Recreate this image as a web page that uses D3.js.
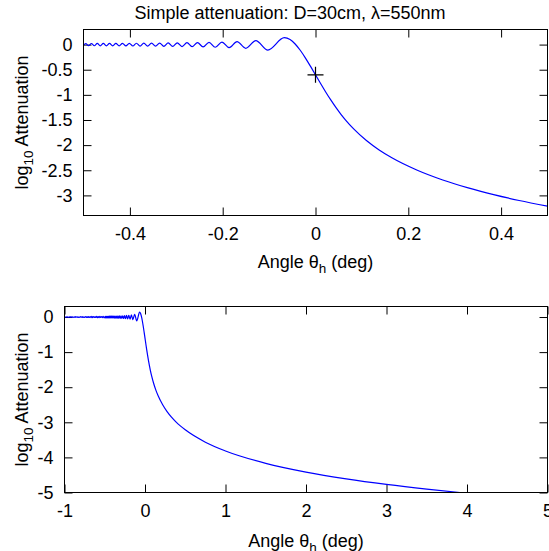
<!DOCTYPE html>
<html>
<head>
<meta charset="utf-8">
<script src="https://cdn.jsdelivr.net/npm/d3@7/dist/d3.min.js"></script>
<style>
body { margin: 0; background: #fff; }
svg { display: block; font-family: 'Liberation Sans', Arial, sans-serif; }
</style>
</head>
<body>
<svg id="chart" width="549" height="551"></svg>
<script>
// knife edge curve (angle in deg, log10 attenuation)
let topAngle = [
	-0.5, -0.49522, -0.48911, -0.48292, -0.47665, -0.47029, -0.46385, -0.45732,
	-0.45069, -0.44396, -0.43713, -0.43019, -0.42314, -0.41597, -0.40866, -0.40124,
	-0.39367, -0.38595, -0.37807, -0.37002, -0.36180, -0.35338, -0.34476, -0.33592,
	-0.32684, -0.31750, -0.30788, -0.29795, -0.28767, -0.27701, -0.26593, -0.25436,
	-0.24224, -0.22948, -0.21597, -0.20155, -0.18603, -0.16908, -0.15023, -0.12865,
	-0.10263, -0.06718,
	-0.05486, -0.04388, -0.03291, -0.02194, -0.01097, 0,
	0.01097, 0.02194, 0.03291, 0.04388, 0.05486, 0.06583, 0.08228, 0.10971,
	0.13714, 0.16457, 0.21942, 0.27428, 0.32914, 0.38399, 0.43885, 0.5
]
let topLog = [
	-0.018, 0.0211, -0.0225, 0.0217, -0.0231, 0.0222, -0.0238, 0.0229,
	-0.0245, 0.0235, -0.0252, 0.0242, -0.0260, 0.0250, -0.0270, 0.0259,
	-0.0281, 0.0269, -0.0293, 0.0281, -0.0307, 0.0293, -0.0323, 0.0308,
	-0.0341, 0.0325, -0.0363, 0.0346, -0.0390, 0.0371, -0.0423, 0.0402,
	-0.0467, 0.0444, -0.0527, 0.0502, -0.0610, 0.0600, -0.0740, 0.0789,
	-0.1090, 0.1369,
	0.1001, 0.0121, -0.1131, -0.2636, -0.4294, -0.6021,
	-0.7749, -0.9426, -1.1015, -1.2499, -1.3864, -1.5113, -1.6778, -1.909,
	-2.0964, -2.2515, -2.4994, -2.6932, -2.8516, -2.9855, -3.1015, -3.2148
]

// lower panel: far left ripple and far tail
let leftAngle = [
	-1.00, -0.99, -0.98, -0.97, -0.96, -0.95, -0.94, -0.93, -0.92, -0.91,
	-0.90, -0.89, -0.88, -0.87, -0.86, -0.85, -0.84, -0.83, -0.82, -0.81,
	-0.80, -0.79, -0.78, -0.77, -0.76, -0.75, -0.74, -0.73, -0.72, -0.71,
	-0.70, -0.69, -0.68, -0.67, -0.66, -0.65, -0.64, -0.63, -0.62, -0.61,
	-0.60, -0.59, -0.58, -0.57, -0.56, -0.55, -0.54, -0.53, -0.52, -0.51
]
let leftLog = [
	0.004, -0.006, 0.008, -0.004, 0.006, -0.009, 0.005, -0.007, 0.009, -0.005,
	0.007, -0.010, 0.006, -0.008, 0.010, -0.006, 0.008, -0.011, 0.007, -0.009,
	0.011, -0.007, 0.009, -0.012, 0.008, -0.010, 0.012, -0.008, 0.010, -0.013,
	0.009, -0.011, 0.014, -0.016, 0.018, -0.017, 0.015, -0.012, 0.010, -0.014,
	0.016, -0.018, 0.012, -0.015, 0.017, -0.013, 0.015, -0.019, 0.018, -0.016
]
let tailAngle = [0.75, 1, 1.5, 2, 2.5, 3, 3.5, 4, 4.5, 5]
let tailLog = [-3.5669, -3.8167, -4.1691, -4.4189, -4.6127, -4.7711, -4.9049, -5.0209, -5.1233, -5.2147]

let crossAngle = [0]
let crossLog = [-0.6021]

let topXTicks = [-0.4, -0.2, 0, 0.2, 0.4]
let topYTicks = [0, -0.5, -1, -1.5, -2, -2.5, -3]
let botXTicks = [-1, 0, 1, 2, 3, 4, 5]
let botYTicks = [0, -1, -2, -3, -4, -5]

let svg = d3.select('#chart')
let fs = 18
let tickLen = 8

function panel(id, box, xDom, yDom, xTicks, yTicks, pts) {
	let x = d3.scaleLinear().domain(xDom).range([box.left, box.right])
	let y = d3.scaleLinear().domain(yDom).range([box.top, box.bottom])
	let g = svg.append('g')

	// clip so the tail stops at the frame
	g.append('clipPath').attr('id', 'clip-' + id)
		.append('rect')
		.attr('x', box.left).attr('y', box.top)
		.attr('width', box.right - box.left).attr('height', box.bottom - box.top)

	let ax = a => {
		a.select('.domain').remove()
		a.selectAll('.tick line').attr('stroke', '#000').attr('stroke-width', 1)
		a.selectAll('text').style('font-size', fs + 'px').attr('fill', '#000')
	}

	g.append('g')
		.attr('transform', `translate(0,${box.bottom})`)
		.call(d3.axisBottom(x).tickValues(xTicks).tickSize(-tickLen).tickPadding(12).tickFormat(d => String(d)))
		.call(ax)
	g.append('g')
		.attr('transform', `translate(0,${box.top})`)
		.call(d3.axisTop(x).tickValues(xTicks).tickSize(-tickLen).tickFormat(''))
		.call(ax)
	g.append('g')
		.attr('transform', `translate(${box.left},0)`)
		.call(d3.axisLeft(y).tickValues(yTicks).tickSize(-tickLen).tickPadding(11).tickFormat(d => String(d)))
		.call(ax)
	g.append('g')
		.attr('transform', `translate(${box.right},0)`)
		.call(d3.axisRight(y).tickValues(yTicks).tickSize(-tickLen).tickFormat(''))
		.call(ax)

	g.append('path')
		.datum(pts)
		.attr('clip-path', `url(#clip-${id})`)
		.attr('fill', 'none')
		.attr('stroke', '#0000ff')
		.attr('stroke-width', 1.2)
		.attr('d', d3.line().x(d => x(d[0])).y(d => y(d[1])).curve(d3.curveMonotoneX))

	g.append('rect')
		.attr('x', box.left).attr('y', box.top)
		.attr('width', box.right - box.left).attr('height', box.bottom - box.top)
		.attr('fill', 'none').attr('stroke', '#000').attr('stroke-width', 1)

	// axis titles
	let xl = g.append('text')
		.attr('x', (box.left + box.right) / 2).attr('y', box.xlab)
		.attr('text-anchor', 'middle').style('font-size', fs + 'px')
	xl.append('tspan').text('Angle θ')
	xl.append('tspan').text('h').attr('dy', 5).style('font-size', (fs * 0.75) + 'px')
	xl.append('tspan').text(' (deg)').attr('dy', -5)

	let yl = g.append('text')
		.attr('transform', `translate(28,${(box.top + box.bottom) / 2}) rotate(-90)`)
		.attr('text-anchor', 'middle').style('font-size', fs + 'px')
	yl.append('tspan').text('log')
	yl.append('tspan').text('10').attr('dy', 5).style('font-size', (fs * 0.75) + 'px')
	yl.append('tspan').text(' Attenuation').attr('dy', -5)

	return { x, y, g }
}

let zip = (a, b) => a.map((d, i) => [d, b[i]])

let topPts = zip(topAngle, topLog)
let botPts = zip(leftAngle, leftLog).concat(topPts, zip(tailAngle, tailLog))

let p1 = panel('top', { left: 83.5, right: 547.5, top: 29.5, bottom: 215.5, xlab: 268 },
	[-0.5, 0.5], [0.3, -3.4], topXTicks, topYTicks, topPts)
panel('bot', { left: 64.5, right: 547.5, top: 306.5, bottom: 492.5, xlab: 547 },
	[-1, 5], [0.3, -5], botXTicks, botYTicks, botPts)

// marker at the edge
let cross = zip(crossAngle, crossLog)
p1.g.selectAll('path.cross')
	.data(cross)
	.join('path')
	.attr('class', 'cross')
	.attr('d', d => {
		let cx = p1.x(d[0]), cy = p1.y(d[1])
		return `M${cx - 8},${cy}H${cx + 8}M${cx},${cy - 8}V${cy + 8}`
	})
	.attr('stroke', '#000').attr('stroke-width', 1.2)

svg.append('text')
	.attr('x', 290).attr('y', 19)
	.attr('text-anchor', 'middle').style('font-size', fs + 'px')
	.text('Simple attenuation: D=30cm, λ=550nm')
</script>
</body>
</html>
